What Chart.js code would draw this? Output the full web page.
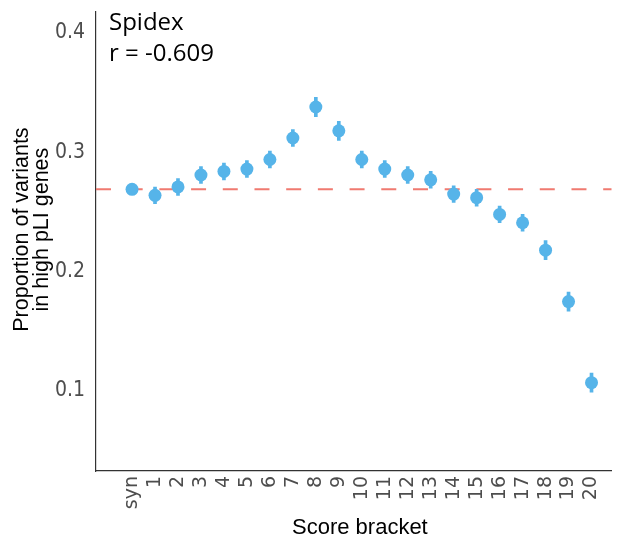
<!DOCTYPE html>
<html>
<head>
<meta charset="utf-8">
<script src="https://cdn.jsdelivr.net/npm/chart.js@4"></script>
<style>
html,body{margin:0;padding:0;background:#fff;}
#wrap{width:618px;height:541px;position:relative;}
</style>
</head>
<body>
<div id="wrap"><canvas id="c" width="618" height="541"></canvas></div>
<script>
const categories = ["syn","1","2","3","4","5","6","7","8","9","10","11","12","13","14","15","16","17","18","19","20"];
const proportions = [0.269,0.264,0.271,0.281,0.284,0.286,0.294,0.312,0.338,0.318,0.294,0.286,0.281,0.277,0.265,0.262,0.248,0.241,0.218,0.175,0.107];
const errors = [0.002,0.007,0.007,0.007,0.007,0.007,0.007,0.007,0.008,0.008,0.007,0.007,0.007,0.007,0.007,0.007,0.007,0.007,0.008,0.008,0.008];
const baseline = 0.269;
const yTicks = [0.1,0.2,0.3,0.4];
const annotationLines = ["Spidex","r = -0.609"];

const dotColor = "#56B4E9";
const points = proportions.map((v,i)=>({x:i,y:v}));
const bars = proportions.map((v,i)=>({x:i,y:[v-errors[i],v+errors[i]]}));

const textPlugin = {
  id:'annot',
  afterDraw(chart){
    const ctx = chart.ctx;
    ctx.save();
    ctx.fillStyle = '#000';
    ctx.font = '24px "Open Sans"';
    ctx.textBaseline = 'alphabetic';
    ctx.textAlign = 'left';
    ctx.fillText(annotationLines[0], 109, 30);
    ctx.fillText(annotationLines[1], 109, 61);
    ctx.restore();
  }
};

new Chart(document.getElementById('c'), {
  data:{
    datasets:[
      {type:'line', data:[{x:-1.57,y:baseline},{x:21.2,y:baseline}], borderColor:'#F07A70', borderWidth:2, borderDash:[15,16.7], pointRadius:0, order:3},
      {type:'bar', data:bars, backgroundColor:dotColor, barThickness:3, order:2},
      {type:'scatter', data:points, backgroundColor:dotColor, borderColor:dotColor, pointRadius:6.5, pointBorderWidth:0, order:1}
    ]
  },
  options:{
    responsive:false,
    animation:false,
    layout:{padding:{top:12,right:0,left:0,bottom:0}},
    plugins:{legend:{display:false}, tooltip:{enabled:false}},
    scales:{
      x:{
        type:'linear', min:-1.569, max:20.87, offset:false,
        grid:{display:false, drawTicks:true, tickLength:4, tickColor:'#333'},
        border:{display:true, color:'#333', width:1.2},
        afterBuildTicks(s){ s.ticks = categories.map((c,i)=>({value:i})); },
        afterFit(s){ s.height = 70; s.paddingRight = 0; s.paddingLeft = 0; },
        ticks:{
          autoSkip:false, minRotation:90, maxRotation:90, padding:1,
          color:'#4D4D4D', font:{family:'"DejaVu Sans"', size:19},
          callback:(v)=>categories[v]
        },
        title:{display:true, text:'  Score bracket', color:'#000', font:{family:'"Liberation Sans", Arial', size:22}, padding:{top:0,bottom:0}}
      },
      y:{
        min:0.033, max:0.4176,
        grid:{display:false, drawTicks:true, tickLength:4, tickColor:'#333'},
        border:{display:true, color:'#333', width:1.2},
        afterBuildTicks(s){ s.ticks = yTicks.map(v=>({value:v})); },
        afterFit(s){ s.width = 96; s.paddingTop = 0; s.paddingBottom = 0; },
        ticks:{color:'#4D4D4D', padding:7, font:{family:'"Liberation Sans Narrow", "DejaVu Sans Condensed", Arial', size:21}, callback:(v)=>v.toFixed(1)},
        title:{display:true, text:['    Proportion of variants','    in high pLI genes'], color:'#000', font:{family:'"Liberation Sans", Arial', size:21.5, lineHeight:0.93}, padding:{top:12,bottom:4}}
      }
    }
  },
  plugins:[textPlugin]
});
</script>
</body>
</html>
